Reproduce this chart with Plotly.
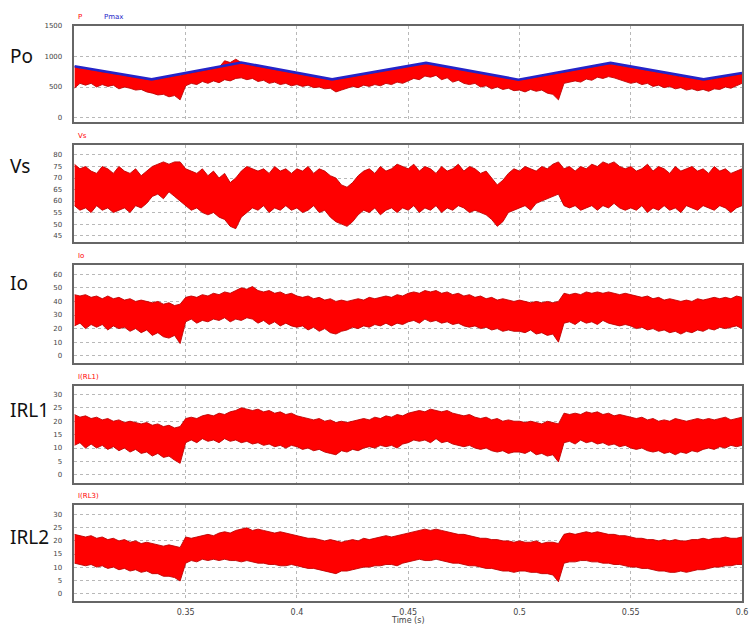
import numpy as np
import plotly.graph_objects as go

# Common time base of the envelope samples (s)
t = np.linspace(0.30, 0.60, 121)

# Po panel: measured power envelope and the Pmax reference (W)
p_hi = [835, 800, 805, 780, 770, 745, 745, 715, 710, 690, 680, 655, 650, 625, 620, 625, 650, 660, 685, 690,
        715, 735, 750, 770, 785, 800, 820, 930, 900, 955, 900, 880, 850, 840, 820, 805, 790, 770, 755, 740,
        725, 700, 690, 670, 655, 640, 620, 625, 640, 655, 675, 690, 705, 720, 740, 755, 770, 790, 800, 820,
        835, 850, 870, 890, 880, 860, 845, 830, 810, 795, 780, 760, 745, 730, 710, 695, 680, 665, 645, 630,
        615, 630, 645, 665, 680, 695, 710, 725, 745, 760, 780, 795, 810, 830, 845, 860, 880, 870, 855, 840,
        825, 805, 790, 775, 760, 740, 725, 710, 690, 675, 660, 640, 625, 615, 620, 635, 650, 670, 685, 700, 715]
p_lo = [480, 560, 530, 560, 500, 540, 510, 530, 470, 500, 480, 450, 460, 420, 400, 370, 380, 340, 360, 290,
        520, 560, 540, 590, 560, 600, 570, 620, 600, 640, 650, 620, 640, 590, 610, 560, 580, 540, 560, 520,
        540, 510, 530, 490, 500, 470, 480, 420, 450, 480, 510, 490, 530, 510, 540, 520, 560, 540, 580, 560,
        600, 640, 620, 680, 660, 690, 620, 650, 580, 610, 560, 540, 560, 500, 520, 470, 500, 460, 480, 440,
        450, 420, 460, 430, 450, 400, 380, 290, 560, 580, 600, 580, 630, 610, 660, 640, 670, 650, 620, 600,
        560, 580, 540, 560, 510, 530, 490, 510, 470, 490, 450, 470, 440, 460, 430, 470, 460, 500, 480, 520, 560]
pmax_t = [0.300, 0.3347, 0.3750, 0.4158, 0.4580, 0.4995, 0.5409, 0.5827, 0.600]
pmax_v = [840, 625, 900, 625, 895, 620, 895, 625, 730]

# Vs panel (V)
vs_hi = [76, 74, 75, 73, 72, 75, 74, 72, 75, 73, 72, 74, 71, 73, 75, 76, 77, 76, 77, 77,
         74, 73, 72, 74, 71, 73, 70, 72, 68, 70, 73, 75, 74, 73, 74, 72, 75, 73, 74, 72,
         74, 73, 75, 72, 74, 73, 71, 70, 67, 66, 68, 71, 73, 74, 72, 75, 73, 74, 76, 75,
         74, 76, 73, 75, 74, 72, 75, 73, 74, 76, 73, 75, 74, 72, 73, 70, 67, 69, 72, 74,
         73, 75, 74, 73, 75, 74, 76, 77, 74, 75, 73, 75, 74, 76, 75, 77, 76, 77, 75, 74,
         75, 73, 74, 76, 73, 75, 74, 72, 75, 73, 74, 75, 73, 74, 72, 75, 73, 74, 72, 73, 74]
vs_lo = [58, 56, 57, 55, 58, 56, 57, 55, 56, 57, 55, 58, 57, 59, 62, 63, 61, 64, 62, 60,
         58, 56, 57, 55, 54, 55, 53, 52, 49, 48, 53, 55, 57, 56, 58, 55, 57, 56, 58, 56,
         57, 55, 56, 58, 55, 56, 53, 51, 50, 49, 51, 54, 56, 55, 57, 54, 56, 57, 55, 57,
         56, 58, 55, 57, 56, 58, 55, 57, 56, 58, 57, 55, 56, 55, 54, 52, 49, 51, 55, 56,
         57, 58, 56, 59, 60, 61, 62, 63, 58, 57, 58, 56, 57, 58, 56, 58, 57, 59, 57, 56,
         57, 56, 58, 55, 57, 56, 58, 56, 57, 55, 58, 57, 56, 58, 57, 56, 58, 57, 55, 57, 58]

# Io panel (A)
io_hi = [45, 44, 45, 43, 44, 42, 44, 42, 43, 41, 42, 40, 41, 40, 39, 40, 38, 39, 37, 38,
         43, 44, 43, 45, 44, 46, 45, 47, 46, 48, 50, 49, 51, 48, 47, 48, 46, 47, 45, 46,
         44, 43, 44, 42, 43, 41, 42, 40, 41, 40, 41, 42, 41, 43, 42, 43, 44, 43, 45, 44,
         46, 47, 46, 48, 47, 48, 46, 47, 45, 46, 44, 45, 43, 44, 42, 43, 41, 42, 41, 40,
         41, 40, 39, 40, 39, 40, 39, 40, 46, 45, 46, 45, 47, 46, 47, 46, 47, 46, 45, 46,
         45, 44, 43, 44, 42, 43, 41, 42, 41, 40, 41, 40, 42, 41, 42, 43, 42, 43, 42, 44, 43]
io_lo = [22, 24, 20, 23, 21, 23, 19, 22, 20, 21, 18, 20, 17, 19, 15, 17, 14, 13, 15, 9,
         25, 27, 24, 26, 25, 27, 26, 28, 25, 27, 26, 28, 27, 24, 26, 23, 25, 22, 24, 22,
         21, 22, 19, 21, 18, 20, 17, 16, 18, 19, 21, 20, 22, 21, 23, 22, 24, 22, 24, 23,
         25, 26, 24, 27, 25, 26, 24, 25, 23, 24, 22, 21, 22, 20, 21, 19, 20, 18, 19, 18,
         18, 17, 19, 16, 17, 15, 16, 10, 24, 25, 23, 26, 24, 25, 23, 26, 24, 23, 22, 23,
         22, 20, 21, 19, 20, 18, 19, 17, 18, 16, 18, 17, 19, 18, 20, 19, 21, 20, 21, 22, 20]

# IRL1 panel (A)
irl1_hi = [22.5, 21.5, 22, 21, 21.5, 20.5, 21, 20, 20.5, 19.5, 20, 19.5, 19, 19.5, 18.5, 19, 18, 18.5, 17.5, 18,
           21, 21.5, 21, 22, 22.5, 22, 23, 22.5, 23.5, 24, 25, 24.5, 24, 24.5, 23.5, 24, 23, 23.5, 22.5, 23,
           22, 21.5, 21, 20.5, 21, 20, 20.5, 19.5, 20, 19.5, 20, 20.5, 21, 20.5, 21.5, 21, 22, 21.5, 22.5, 22,
           23, 23.5, 24, 23.5, 24.5, 24, 23.5, 24, 23, 22.5, 22, 22.5, 21.5, 21, 21.5, 20.5, 21, 20, 20.5, 20,
           20, 19.5, 20, 19.5, 19, 20, 19.5, 19, 23, 22.5, 23, 22.5, 23.5, 23, 23.5, 22.5, 23, 22, 22.5, 22,
           21.5, 21, 21.5, 20.5, 21, 20, 20.5, 20, 21, 20.5, 20, 20.5, 21, 20.5, 21, 20.5, 21, 21.5, 20.5, 21, 21.5]
irl1_lo = [11, 12, 10, 11.5, 10, 11, 9.5, 10.5, 9, 10, 8.5, 9.5, 8, 8.5, 7, 8, 6.5, 7, 5.5, 4.3,
           12, 13, 12, 13.5, 12.5, 13, 12, 13.5, 12.5, 13, 12, 12.5, 11.5, 12, 11, 11.5, 10.5, 11, 10, 11,
           10.5, 9.5, 10, 9, 9.5, 8.5, 8, 7.5, 9, 8.5, 9.5, 9, 10, 10.5, 10, 11, 10.5, 11, 10, 11.5,
           12, 13, 12.5, 13, 12, 13.5, 12, 12.5, 11.5, 11, 10.5, 11, 10, 9.5, 10, 9, 8.5, 9, 8, 8.5,
           8.5, 8, 9, 7.5, 8, 7, 7.5, 4.8, 12, 12.5, 11.5, 13, 12, 12.5, 11.5, 12, 11, 11.5, 10.5, 11,
           10, 9.5, 10, 9, 8.5, 9, 8, 8.5, 7.5, 8.5, 8, 9, 8.5, 9.5, 10, 9.5, 10.5, 10, 11, 10.5, 11]

# IRL2 panel (A)
irl2_hi = [22.5, 22, 21.5, 22, 21, 21.5, 20.5, 21, 20, 20.5, 19.5, 20, 19, 19.5, 19, 18.5, 18, 18.5, 18, 17.5,
           21.5, 21, 21.5, 22, 22.5, 22, 23, 23.5, 23, 24, 24.5, 25, 24, 24.5, 24, 23.5, 23, 23.5, 23, 22.5,
           22, 21.5, 21, 21, 20.5, 20, 20.5, 20, 19.5, 20, 20.5, 20, 21, 20.5, 21, 21.5, 22, 21.5, 22, 22.5,
           23, 23.5, 24, 24.5, 24, 24.5, 24, 23.5, 23, 22.5, 22.5, 22, 21.5, 21, 21, 20.5, 20.5, 20, 20, 19.5,
           20, 19.5, 19.5, 20, 19, 19.5, 19.5, 19, 22.5, 23, 22.5, 23, 23.5, 23, 23.5, 23, 22.5, 22.5, 22, 22,
           21.5, 21, 21, 20.5, 20.5, 20, 20.5, 20, 20.5, 20, 20, 20.5, 20.5, 21, 20.5, 21, 21, 21.5, 21, 21, 21.5]
irl2_lo = [11.5, 11, 10.5, 11, 10, 10.5, 9.5, 10, 9, 9.5, 8.5, 9, 8, 8.5, 7.5, 7.5, 6.5, 6.5, 6, 4.7,
           11.5, 12.5, 12, 13, 12.5, 13, 12.5, 13, 12.5, 12.5, 12, 12.5, 12, 11.5, 11.5, 11, 11, 10.5, 10.5, 11,
           10.5, 10, 9.5, 9.5, 9, 8.5, 8, 7.5, 8.5, 8.5, 9, 9.5, 10, 10, 10.5, 10.5, 11, 11, 10.5, 11.5,
           12, 12.5, 13, 12.5, 12.5, 13, 12.5, 12, 11.5, 11.5, 11, 10.5, 10.5, 10, 9.5, 9.5, 9, 8.5, 8.5, 8,
           8.5, 8.5, 8, 8, 7.5, 7.5, 7, 4.4, 11.5, 12, 12, 12.5, 12.5, 12, 12, 11.5, 11.5, 11, 11, 10.5,
           10, 10, 9.5, 9.5, 9, 8.5, 8.5, 8, 8, 8.5, 8, 8.5, 9, 9, 9.5, 10, 10, 10.5, 10.5, 11, 11]

# Panel layout: (band high, band low, y range, tick step, trace caption, side label, top px, bottom px)
W, H = 753, 625
panels = [
    (p_hi, p_lo, [-76, 1500], 500, "P", "Po", 22, 119),
    (vs_hi, vs_lo, [42, 84.3], 5, "Vs", "Vs", 142, 240),
    (io_hi, io_lo, [-5.1, 66.6], 10, "Io", "Io", 263, 361),
    (irl1_hi, irl1_lo, [-3, 33.3], 5, "I(RL1)", "IRL1", 384, 482),
    (irl2_hi, irl2_lo, [-3, 33.8], 5, "I(RL3)", "IRL2", 504, 601),
]
side_label_y = [52, 163, 281, 409, 536]

RED = "#ff0000"
EDGE = "#c00000"
GRID = "#b8b8b8"
FRAME = "#666666"
x_dom = [75 / W, 748 / W]

fig = go.Figure()
layout = {}
annotations = []

for i, (hi, lo, yr, step, cap, side, top, bot) in enumerate(panels, start=1):
    xa = "x" if i == 1 else f"x{i}"
    ya = "y" if i == 1 else f"y{i}"
    fig.add_trace(go.Scatter(x=t, y=lo, xaxis=xa, yaxis=ya, mode="lines",
                             line=dict(color=EDGE, width=0.9), hoverinfo="skip", showlegend=False))
    fig.add_trace(go.Scatter(x=t, y=hi, xaxis=xa, yaxis=ya, mode="lines",
                             line=dict(color=EDGE, width=0.9), fill="tonexty", fillcolor=RED,
                             hoverinfo="skip", showlegend=False))
    if i == 1:
        fig.add_trace(go.Scatter(x=pmax_t, y=pmax_v, xaxis=xa, yaxis=ya, mode="lines",
                                 line=dict(color="#2424c8", width=2.6), hoverinfo="skip", showlegend=False))

    y_dom = [1 - bot / H, 1 - top / H]
    last = i == len(panels)
    layout["xaxis" if i == 1 else f"xaxis{i}"] = dict(
        domain=x_dom, anchor=ya, range=[0.30, 0.60],
        tickvals=[0.35, 0.40, 0.45, 0.50, 0.55, 0.60],
        ticktext=["0.35", "0.4", "0.45", "0.5", "0.55", "0.6"],
        showticklabels=last, ticks="", ticklabeloverflow="allow",
        showgrid=True, gridcolor=GRID, griddash="dot", gridwidth=1,
        showline=True, mirror=True, linecolor=FRAME, linewidth=1.5,
        zeroline=False, tickfont=dict(size=8, color="#444", family="DejaVu Sans"),
        ticklabelstandoff=2,
    )
    layout["yaxis" if i == 1 else f"yaxis{i}"] = dict(
        domain=y_dom, anchor=xa, range=yr, dtick=step, tick0=0,
        showgrid=True, gridcolor=GRID, griddash="dot", gridwidth=1,
        showline=True, mirror=True, linecolor=FRAME, linewidth=1.5,
        zeroline=False, ticks="", tickfont=dict(size=7, color="#444", family="DejaVu Sans"),
        ticklabelstandoff=9,
    )
    # trace caption above the frame
    annotations.append(dict(x=77 / W, y=1 - (top - 9) / H, xref="paper", yref="paper",
                            text=cap, showarrow=False, xanchor="left", yanchor="middle",
                            font=dict(size=7, color=RED, family="DejaVu Sans")))
    # signal name on the left
    annotations.append(dict(x=8 / W, y=1 - side_label_y[i - 1] / H, xref="paper", yref="paper",
                            text=side, showarrow=False, xanchor="left", yanchor="middle",
                            font=dict(size=19, color="#111", family="Noto Sans")))

annotations.append(dict(x=103 / W, y=1 - 13 / H, xref="paper", yref="paper", text="Pmax",
                        showarrow=False, xanchor="left", yanchor="middle",
                        font=dict(size=7, color="#2424c8", family="DejaVu Sans")))
annotations.append(dict(x=0.45, y=1 - 620 / H, xref="x5", yref="paper", text="Time (s)",
                        showarrow=False, xanchor="center", yanchor="middle",
                        font=dict(size=8, color="#444", family="DejaVu Sans")))

fig.update_layout(
    width=W, height=H, margin=dict(l=0, r=0, t=0, b=0),
    paper_bgcolor="white", plot_bgcolor="white",
    annotations=annotations, **layout,
)

fig.write_html("out.html")
